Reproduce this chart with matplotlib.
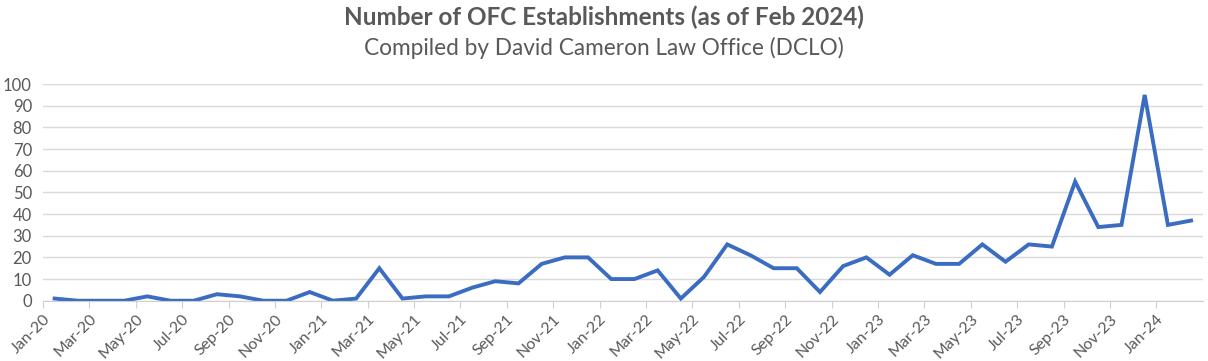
import numpy as np
import matplotlib.pyplot as plt

plt.rcParams['font.family'] = ['Lato', 'DejaVu Sans']

months = ['Jan', 'Feb', 'Mar', 'Apr', 'May', 'Jun', 'Jul', 'Aug', 'Sep', 'Oct', 'Nov', 'Dec']
dates = [m + '-' + y for y in ['20', '21', '22', '23'] for m in months] + ['Jan-24', 'Feb-24']
counts = [1, 0, 0, 0, 2, 0, 0, 3, 2, 0, 0, 4,
          0, 1, 15, 1, 2, 2, 6, 9, 8, 17, 20, 20,
          10, 10, 14, 1, 11, 26, 21, 15, 15, 4, 16, 20,
          12, 21, 17, 17, 26, 18, 26, 25, 55, 34, 35, 95,
          35, 37]

grey = '#595959'
fig = plt.figure(figsize=(12.08, 3.61), dpi=100)
ax = fig.add_axes([0.0356, 0.167, 0.96, 0.60])

x = np.arange(len(counts)) + 0.5
ax.plot(x, counts, color='#3A6CC2', linewidth=2.8, solid_joinstyle='miter')

ax.set_xlim(0, len(counts))
ax.set_ylim(0, 100)
ax.set_yticks(range(0, 101, 10))
ax.set_xticks(range(0, len(counts), 2))
ax.set_xticklabels(dates[::2], rotation=45, ha='right', rotation_mode='anchor')
ax.tick_params(axis='x', colors='#d0d0d0', labelcolor=grey, labelsize=11.5, length=5, pad=3)
ax.tick_params(axis='y', length=0, labelcolor=grey, labelsize=12, pad=8)
ax.grid(axis='y', color='#d9d9d9', linewidth=1)
ax.set_axisbelow(True)
for s in ['top', 'right', 'left']:
    ax.spines[s].set_visible(False)
ax.spines['bottom'].set_color('#d0d0d0')

fig.text(0.5, 0.953, 'Number of OFC Establishments (as of Feb 2024)', ha='center', va='center',
         fontsize=17.5, fontweight='bold', color=grey)
fig.text(0.5, 0.868, 'Compiled by David Cameron Law Office (DCLO)', ha='center', va='center',
         fontsize=16.3, color=grey)

fig.savefig('out.png', dpi=100)
